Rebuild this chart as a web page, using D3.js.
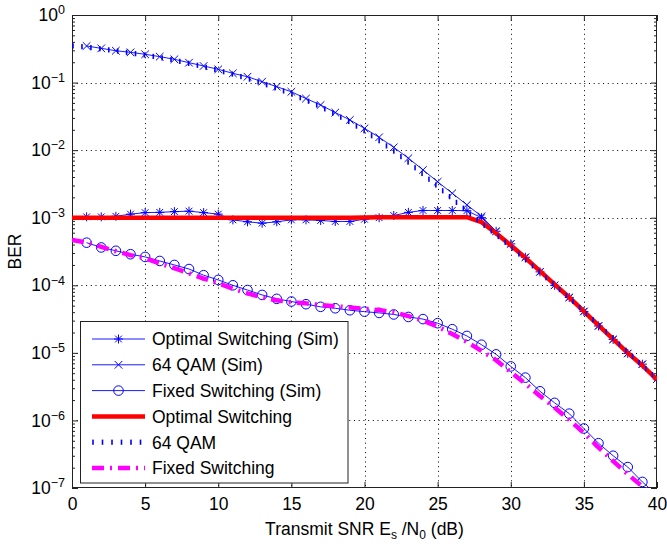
<!DOCTYPE html>
<html>
<head>
<meta charset="utf-8">
<script src="https://cdn.jsdelivr.net/npm/d3@7"></script>
<style>
  body { margin: 0; background: #fff; }
  svg { display: block; }
  text { font-family: "Liberation Sans", Arial, Helvetica, sans-serif; fill: #000; }
</style>
</head>
<body>
<script>
// SNR grid (dB)
const snrSim = d3.range(1, 41)
const snrTheory = d3.range(0, 41)

// simulated BER, SNR = 1..40 dB
const optSim = [1.03e-3, 1.03e-3, 1.05e-3, 1.13e-3, 1.19e-3, 1.2e-3, 1.23e-3, 1.25e-3, 1.19e-3, 1.13e-3,
  0.93e-3, 0.87e-3, 0.83e-3, 0.87e-3, 0.93e-3, 0.93e-3, 0.91e-3, 0.88e-3, 0.88e-3, 0.95e-3,
  1.0e-3, 1.08e-3, 1.2e-3, 1.28e-3, 1.28e-3, 1.28e-3, 1.27e-3, 1.0e-3, 6.3e-4, 4.1e-4,
  2.6e-4, 1.58e-4, 1.0e-4, 6.6e-5, 4.1e-5, 2.5e-5, 1.58e-5, 9.8e-6, 6.8e-6, 4.1e-6]
const qamSim = [0.348, 0.321, 0.296, 0.28, 0.262, 0.242, 0.221, 0.197, 0.176, 0.157,
  0.137, 0.122, 0.103, 0.087, 0.073, 0.058, 0.0466, 0.036, 0.028, 0.021,
  0.0155, 0.011, 7.6e-3, 5.1e-3, 3.4e-3, 2.3e-3, 1.55e-3, 1.05e-3, 6.3e-4, 4.1e-4,
  2.6e-4, 1.58e-4, 1.0e-4, 6.6e-5, 4.1e-5, 2.5e-5, 1.58e-5, 9.8e-6, 6.8e-6, 4.1e-6]
const fixedSim = [4.27e-4, 3.63e-4, 3.24e-4, 2.88e-4, 2.63e-4, 2.29e-4, 2.0e-4, 1.74e-4, 1.41e-4, 1.2e-4,
  1.0e-4, 8.5e-5, 7.2e-5, 6.3e-5, 5.75e-5, 5.25e-5, 4.8e-5, 4.57e-5, 4.27e-5, 4.07e-5,
  3.9e-5, 3.7e-5, 3.4e-5, 3.16e-5, 2.75e-5, 2.24e-5, 1.78e-5, 1.32e-5, 9.5e-6, 6.3e-6,
  4.3e-6, 2.7e-6, 1.82e-6, 1.26e-6, 7.6e-7, 4.6e-7, 3.0e-7, 2.04e-7, 1.23e-7, 7.9e-8]

// analytical BER, SNR = 0..40 dB
const optTheory = [1e-3, 1e-3, 1e-3, 1e-3, 1e-3, 1e-3, 1e-3, 1e-3, 1e-3, 1e-3,
  1e-3, 1e-3, 1e-3, 1e-3, 1e-3, 1e-3, 1e-3, 1e-3, 1e-3, 1e-3,
  1.01e-3, 1.02e-3, 1.02e-3, 1.02e-3, 1.02e-3, 1.02e-3, 1.02e-3, 1.02e-3, 8.6e-4, 5.9e-4,
  3.9e-4, 2.55e-4, 1.62e-4, 1.03e-4, 6.6e-5, 4.1e-5, 2.55e-5, 1.6e-5, 1.0e-5, 6.5e-6, 4.0e-6]
const qamTheory = [0.35, 0.335, 0.315, 0.295, 0.275, 0.255, 0.235, 0.215, 0.192, 0.172,
  0.152, 0.133, 0.115, 0.098, 0.082, 0.068, 0.055, 0.044, 0.034, 0.026,
  0.0192, 0.0138, 0.0097, 0.0066, 0.0044, 0.0029, 0.0019, 0.00125, 8.3e-4, 5.6e-4,
  3.7e-4, 2.4e-4, 1.55e-4, 1.0e-4, 6.5e-5, 4.1e-5, 2.6e-5, 1.65e-5, 1.03e-5, 6.5e-6, 4.1e-6]
const fixedTheory = [4.7e-4, 4.3e-4, 3.7e-4, 3.2e-4, 2.8e-4, 2.5e-4, 2.1e-4, 1.8e-4, 1.5e-4, 1.26e-4,
  1.07e-4, 8.9e-5, 7.6e-5, 6.6e-5, 6.0e-5, 5.6e-5, 5.4e-5, 5.1e-5, 4.9e-5, 4.7e-5,
  4.5e-5, 4.3e-5, 4.0e-5, 3.5e-5, 3.0e-5, 2.45e-5, 1.9e-5, 1.45e-5, 1.07e-5, 7.8e-6,
  5.2e-6, 3.5e-6, 2.3e-6, 1.55e-6, 1.02e-6, 6.5e-7, 4.0e-7, 2.5e-7, 1.6e-7, 1.05e-7, 6.8e-8]

const xTicks = [0, 5, 10, 15, 20, 25, 30, 35, 40]
const yExponents = [0, -1, -2, -3, -4, -5, -6, -7]
const legendLabels = ["Optimal Switching (Sim)", "64 QAM (Sim)", "Fixed Switching (Sim)",
  "Optimal Switching", "64 QAM", "Fixed Switching"]

const width = 667, height = 546
const m = { left: 72, right: 657, top: 15, bottom: 488 }
const fs = 17.5

const x = d3.scaleLinear([0, 40], [m.left, m.right])
const y = d3.scaleLog([1e-7, 1], [m.bottom, m.top])

const svg = d3.select("body").append("svg")
  .attr("width", width)
  .attr("height", height)

svg.append("defs").append("clipPath").attr("id", "plot-clip")
  .append("rect")
  .attr("x", m.left).attr("y", m.top)
  .attr("width", m.right - m.left).attr("height", m.bottom - m.top)

// grid
const grid = svg.append("g").attr("id", "grid")
  .attr("stroke", "#000").attr("stroke-width", 1).attr("stroke-dasharray", "1 3.7")
grid.selectAll(".gx").data(xTicks.slice(1, -1)).enter().append("line")
  .attr("x1", d => Math.round(x(d)) + 0.5).attr("x2", d => Math.round(x(d)) + 0.5)
  .attr("y1", m.top).attr("y2", m.bottom)
grid.selectAll(".gy").data(yExponents.slice(1, -1)).enter().append("line")
  .attr("x1", m.left).attr("x2", m.right)
  .attr("y1", d => Math.round(y(10 ** d)) + 0.5).attr("y2", d => Math.round(y(10 ** d)) + 0.5)

// axes (ticks point inward, box on all sides)
const majorY = yExponents.map(e => 10 ** e)
const minorY = []
yExponents.slice(1).forEach(e => { for (let k = 2; k <= 9; k++) minorY.push(k * 10 ** e) })

const axes = svg.append("g").attr("id", "axes")

const xAxis = axes.append("g").attr("transform", `translate(0,${m.bottom})`)
  .call(d3.axisBottom(x).tickValues(xTicks).tickSize(-6).tickSizeOuter(0).tickPadding(10))
xAxis.selectAll("text").style("font-size", fs + "px")

axes.append("g").attr("transform", `translate(0,${m.top})`)
  .call(d3.axisTop(x).tickValues(xTicks).tickSize(-6).tickSizeOuter(0).tickFormat(""))

const yAxis = axes.append("g").attr("transform", `translate(${m.left},0)`)
  .call(d3.axisLeft(y).tickValues(majorY).tickSize(-6).tickSizeOuter(0).tickPadding(7))
yAxis.selectAll("text").each(function(d) {
  const e = Math.round(Math.log10(d))
  const t = d3.select(this).text("").style("font-size", fs + "px")
  t.append("tspan").text("10")
  t.append("tspan").attr("dy", "-0.55em").style("font-size", "12.5px")
    .text(e === 0 ? "0" : "\u2212" + Math.abs(e))
})
axes.append("g").attr("transform", `translate(${m.left},0)`)
  .call(d3.axisLeft(y).tickValues(minorY).tickSize(-3).tickSizeOuter(0).tickFormat(""))

axes.append("g").attr("transform", `translate(${m.right},0)`)
  .call(d3.axisRight(y).tickValues(majorY).tickSize(-6).tickSizeOuter(0).tickFormat(""))
axes.append("g").attr("transform", `translate(${m.right},0)`)
  .call(d3.axisRight(y).tickValues(minorY).tickSize(-3).tickSizeOuter(0).tickFormat(""))

axes.selectAll(".domain").remove()
axes.selectAll("line").attr("stroke", "#222")

svg.append("rect")
  .attr("x", m.left + 0.5).attr("y", m.top + 0.5)
  .attr("width", m.right - m.left - 1).attr("height", m.bottom - m.top - 1)
  .attr("fill", "none").attr("stroke", "#222").attr("stroke-width", 1)

// markers
const blue = "#0000ff"
const markers = {
  star: (g, r) => {
    const a = r * 0.75
    g.append("path").attr("d", `M${-r},0H${r}M0,${-r}V${r}M${-a},${-a}L${a},${a}M${-a},${a}L${a},${-a}`)
      .attr("stroke", blue).attr("stroke-width", 1).attr("fill", "none")
  },
  cross: (g, r) => {
    g.append("path").attr("d", `M${-r},${-r}L${r},${r}M${-r},${r}L${r},${-r}`)
      .attr("stroke", blue).attr("stroke-width", 1).attr("fill", "none")
  },
  circle: (g, r) => {
    g.append("circle").attr("r", r).attr("stroke", blue).attr("stroke-width", 1).attr("fill", "none")
  }
}

// the thick dotted line of the original export shows up as short upright bars
function dottedBars(g, pathNode, step) {
  const len = pathNode.getTotalLength()
  const pts = d3.range(1, len, step).map(l => pathNode.getPointAtLength(l))
  g.append("g").selectAll("rect").data(pts).enter().append("rect")
    .attr("x", d => d.x - 0.8).attr("y", d => d.y - 2.6)
    .attr("width", 1.6).attr("height", 5.2)
    .attr("fill", blue)
}

const line = d3.line().x(d => x(d[0])).y(d => y(d[1]))
const plot = svg.append("g").attr("id", "curves").attr("clip-path", "url(#plot-clip)")

const simSeries = [
  { values: optSim, marker: "star", r: 4.5 },
  { values: qamSim, marker: "cross", r: 3.8 },
  { values: fixedSim, marker: "circle", r: 4.8 }
]
simSeries.forEach(s => {
  const pts = snrSim.map((v, i) => [v, s.values[i]])
  plot.append("path").datum(pts)
    .attr("fill", "none").attr("stroke", blue).attr("stroke-width", 0.9)
    .attr("d", line)
  plot.append("g").selectAll("g").data(pts).enter().append("g")
    .attr("transform", d => `translate(${x(d[0])},${y(d[1])})`)
    .each(function() { markers[s.marker](d3.select(this), s.r) })
})

const theorySeries = [
  { values: optTheory, stroke: "#ff0000", width: 4.5, dash: null },
  { values: qamTheory, stroke: blue, width: 0, dash: null, bars: true },
  { values: fixedTheory, stroke: "#ff00ff", width: 4.5, dash: "12 6 2 6" }
]
theorySeries.forEach(s => {
  const p = plot.append("path").datum(snrTheory.map((v, i) => [v, s.values[i]]))
    .attr("fill", "none").attr("stroke", s.bars ? "none" : s.stroke).attr("stroke-width", s.width)
    .attr("stroke-dasharray", s.dash).attr("stroke-linejoin", "round")
    .attr("d", line)
  if (s.bars) dottedBars(plot, p.node(), 9)
})

// legend
const lg = svg.append("g").attr("id", "legend")
lg.append("rect")
  .attr("x", 80.5).attr("y", 321.5).attr("width", 267.5).attr("height", 161.5)
  .attr("fill", "#fff").attr("stroke", "#222").attr("stroke-width", 1)

const rowY = i => 339 + i * 25.8
legendLabels.forEach((label, i) => {
  const yy = rowY(i)
  const row = lg.append("g")
  if (i < 3) {
    const s = simSeries[i]
    row.append("line").attr("x1", 92).attr("x2", 145).attr("y1", yy).attr("y2", yy)
      .attr("stroke", blue).attr("stroke-width", 0.9)
    const mg = row.append("g").attr("transform", `translate(118.5,${yy})`)
    markers[s.marker](mg, s.r)
  } else if (theorySeries[i - 3].bars) {
    const sample = row.append("path").attr("d", `M92,${yy}H145`).attr("stroke", "none")
    dottedBars(row, sample.node(), 9.5)
  } else {
    const s = theorySeries[i - 3]
    row.append("line").attr("x1", 92).attr("x2", 145).attr("y1", yy).attr("y2", yy)
      .attr("stroke", s.stroke).attr("stroke-width", s.width).attr("stroke-dasharray", s.dash)
  }
  row.append("text").attr("x", 152).attr("y", yy).attr("dy", "0.36em")
    .style("font-size", fs + "px").text(label)
})

// axis labels
const xl = svg.append("text").attr("x", (m.left + m.right) / 2).attr("y", 535)
  .attr("text-anchor", "middle").style("font-size", fs + "px")
xl.append("tspan").text("Transmit SNR E")
xl.append("tspan").attr("dy", 4).style("font-size", "12px").text("s")
xl.append("tspan").attr("dy", -4).text(" /N")
xl.append("tspan").attr("dy", 4).style("font-size", "12px").text("0")
xl.append("tspan").attr("dy", -4).text(" (dB)")

svg.append("text")
  .attr("transform", `translate(21,${(m.top + m.bottom) / 2}) rotate(-90)`)
  .attr("text-anchor", "middle").style("font-size", fs + "px")
  .text("BER")
</script>
</body>
</html>
